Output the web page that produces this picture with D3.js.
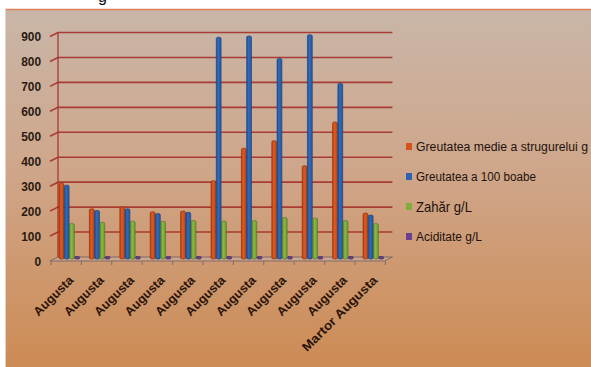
<!DOCTYPE html>
<html>
<head>
<meta charset="utf-8">
<script src="https://cdn.jsdelivr.net/npm/d3@7"></script>
<style>
  body { margin: 0; background: #fff; }
  svg { display: block; }
</style>
</head>
<body>
<svg id="chart" width="591" height="367"></svg>
<script>
// =========================
// DATE
// =========================
const categories = ["Augusta", "Augusta", "Augusta", "Augusta", "Augusta", "Augusta",
  "Augusta", "Augusta", "Augusta", "Augusta", "Martor Augusta"];

const seriesNames = ["Greutatea medie a strugurelui g", "Greutatea a 100 boabe", "Zahăr g/L", "Aciditate g/L"];

const greutateMedie = [300, 197, 205, 185, 188, 310, 440, 470, 370, 545, 180];
const greutate100 = [292, 190, 197, 178, 183, 885, 890, 800, 895, 700, 172];
const zahar = [138, 143, 148, 147, 150, 148, 150, 162, 160, 150, 138];
const aciditate = [6, 6, 6, 6, 6, 6, 6, 6, 6, 6, 6];

const yTicks = [0, 100, 200, 300, 400, 500, 600, 700, 800, 900];

const values = [greutateMedie, greutate100, zahar, aciditate];
const colors = ["#d4521a", "#2b63b2", "#7fae3c", "#6b3e94"];
const edges = ["#8a2c08", "#163d75", "#4d7422", "#3e2058"];

// lunghezze del testo della legenda (font condensato nell'originale)
const legendWidths = [172, 120, 56, 66];
const legendSizes = [12.5, 12.5, 15, 12.5];

// =========================
// SVG
// =========================
const svg = d3.select("#chart");
const defs = svg.append("defs");

const bg = defs.append("linearGradient").attr("id", "bg")
  .attr("x1", 0).attr("y1", 0).attr("x2", 0).attr("y2", 1);
bg.append("stop").attr("offset", "0%").attr("stop-color", "#c9b6a8");
bg.append("stop").attr("offset", "45%").attr("stop-color", "#cfa68a");
bg.append("stop").attr("offset", "100%").attr("stop-color", "#cd8b54");

// gradient orizzontale per le barre (effetto 3D)
colors.forEach((c, i) => {
  const g = defs.append("linearGradient").attr("id", "bar" + i)
    .attr("x1", 0).attr("y1", 0).attr("x2", 1).attr("y2", 0);
  g.append("stop").attr("offset", "0%").attr("stop-color", d3.color(c).darker(0.6));
  g.append("stop").attr("offset", "40%").attr("stop-color", d3.color(c).brighter(0.2));
  g.append("stop").attr("offset", "100%").attr("stop-color", d3.color(c).darker(0.4));
});

// titolo tagliato in alto (solo la coda della "g" è visibile)
svg.append("text")
  .attr("x", 98).attr("y", 2)
  .attr("font-family", "Liberation Sans, Arial, sans-serif")
  .attr("font-size", 16)
  .attr("fill", "#111")
  .text("g");

// sfondo del grafico
svg.append("rect")
  .attr("x", 5).attr("y", 9)
  .attr("width", 586).attr("height", 358)
  .attr("fill", "url(#bg)");
svg.append("line")
  .attr("x1", 5).attr("x2", 591).attr("y1", 9.5).attr("y2", 9.5)
  .attr("stroke", "#e0805a").attr("stroke-width", 1.5);
svg.append("line")
  .attr("x1", 5.5).attr("x2", 5.5).attr("y1", 9).attr("y2", 367)
  .attr("stroke", "#e4d2c4").attr("stroke-width", 1);

// =========================
// SCALE
// =========================
const depthX = 7, depthY = 4;
const x = d3.scaleBand()
  .domain(d3.range(categories.length))
  .range([51, 51 + 30.4 * categories.length])
  .paddingInner(0).paddingOuter(0);

const xSub = d3.scaleBand()
  .domain(d3.range(seriesNames.length))
  .range([8, 29]);

const y = d3.scaleLinear().domain([0, 900]).range([257, 32.5]);

// griglia (parete di fondo)
const gridColor = "#a5302a";
const grid = svg.append("g");
yTicks.forEach(t => {
  if (t === 0) return;
  grid.append("path")
    .attr("d", `M${x.range()[0] - 1},${y(t) + depthY} L${x.range()[0] + depthX},${y(t)} L${x.range()[1] + depthX},${y(t)}`)
    .attr("fill", "none")
    .attr("stroke", gridColor)
    .attr("stroke-width", 1.6)
    .attr("opacity", 0.9);
});
grid.append("line")
  .attr("x1", x.range()[0] + depthX).attr("x2", x.range()[0] + depthX)
  .attr("y1", y(900)).attr("y2", y(0))
  .attr("stroke", gridColor).attr("stroke-width", 1.2);

// pavimento
const floorColor = "#7e6a6a";
svg.append("path")
  .attr("d", `M${x.range()[0] - 1},${y(0) + depthY} L${x.range()[0] + depthX},${y(0)} L${x.range()[1] + depthX},${y(0)} L${x.range()[1] - 1},${y(0) + depthY} Z`)
  .attr("fill", "#caa58a")
  .attr("stroke", floorColor)
  .attr("stroke-width", 1);

// asse y: etichette
svg.append("g").selectAll("text")
  .data(yTicks)
  .join("text")
  .attr("x", 41)
  .attr("y", d => y(d) + depthY)
  .attr("dy", "0.35em")
  .attr("text-anchor", "end")
  .attr("font-family", "Liberation Sans, Arial, sans-serif")
  .attr("font-weight", "bold")
  .attr("font-size", 13)
  .attr("textLength", d => String(d).length * 6.6)
  .attr("lengthAdjust", "spacingAndGlyphs")
  .attr("fill", "#2a1a12")
  .text(d => d);

// tacche asse x
svg.append("g").selectAll("line")
  .data(d3.range(categories.length + 1))
  .join("line")
  .attr("x1", i => x.range()[0] + i * x.bandwidth())
  .attr("x2", i => x.range()[0] + i * x.bandwidth())
  .attr("y1", y(0) + depthY)
  .attr("y2", y(0) + depthY + 4)
  .attr("stroke", floorColor)
  .attr("stroke-width", 1);

// =========================
// BARRE
// =========================
const bars = svg.append("g");
values.forEach((serie, s) => {
  bars.append("g").selectAll("rect")
    .data(serie)
    .join("rect")
    .attr("x", (d, i) => x(i) + xSub(s))
    .attr("y", d => y(d) + 1)
    .attr("width", xSub.bandwidth() - 0.4)
    .attr("height", d => y(0) + 1 - y(d))
    .attr("rx", 1.5)
    .attr("fill", `url(#bar${s})`)
    .attr("stroke", edges[s])
    .attr("stroke-width", 0.6);
});

// etichette asse x
svg.append("g").selectAll("text")
  .data(categories)
  .join("text")
  .attr("transform", (d, i) => `translate(${x(i) + x.bandwidth() / 2 + 8},${y(0) + 24}) rotate(-45)`)
  .attr("text-anchor", "end")
  .attr("font-family", "Liberation Sans, Arial, sans-serif")
  .attr("font-weight", "bold")
  .attr("font-size", 12.5)
  .attr("textLength", d => d.length * 7.2)
  .attr("lengthAdjust", "spacingAndGlyphs")
  .attr("fill", "#2a140a")
  .text(d => d);

// =========================
// LEGENDA
// =========================
const legendY = [147, 177, 207, 237];
const legend = svg.append("g").selectAll("g")
  .data(seriesNames)
  .join("g")
  .attr("transform", (d, i) => `translate(406,${legendY[i]})`);

legend.append("rect")
  .attr("x", 0).attr("y", -4)
  .attr("width", 6).attr("height", 7)
  .attr("fill", (d, i) => colors[i]);

legend.append("text")
  .attr("x", 10)
  .attr("dy", "0.35em")
  .attr("font-family", "Liberation Sans, Arial, sans-serif")
  .attr("font-size", (d, i) => legendSizes[i])
  .attr("textLength", (d, i) => legendWidths[i])
  .attr("lengthAdjust", "spacingAndGlyphs")
  .attr("fill", "#1e120c")
  .text(d => d);
</script>
</body>
</html>
